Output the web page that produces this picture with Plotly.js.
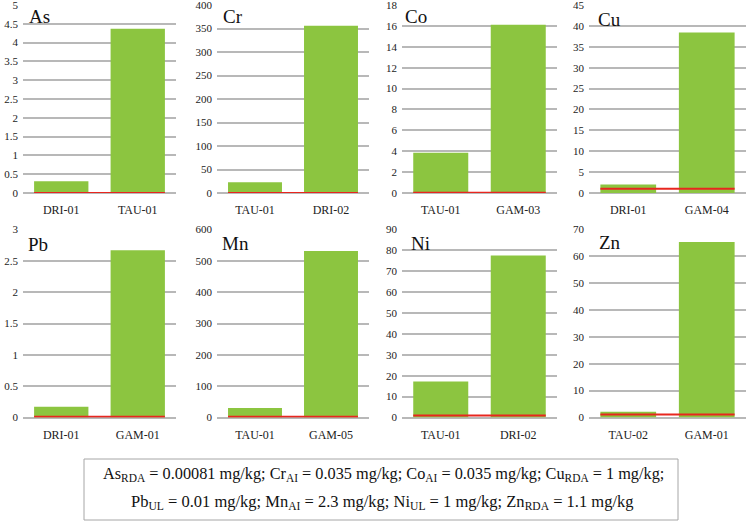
<!DOCTYPE html>
<html>
<head>
<meta charset="utf-8">
<script src="https://cdn.plot.ly/plotly-3.0.1.min.js"></script>
<style>html,body{margin:0;padding:0;background:#fff;}#chart{width:746px;height:522px;}</style>
</head>
<body>
<div id="chart"></div>
<script>
// ---- data ----
const elements = ['As', 'Cr', 'Co', 'Cu', 'Pb', 'Mn', 'Ni', 'Zn'];
const sampleA  = ['DRI-01', 'TAU-01', 'TAU-01', 'DRI-01', 'DRI-01', 'TAU-01', 'TAU-01', 'TAU-02'];
const sampleB  = ['TAU-01', 'DRI-02', 'GAM-03', 'GAM-04', 'GAM-01', 'GAM-05', 'DRI-02', 'GAM-01'];
const valueA   = [0.31, 23, 3.85, 2.05, 0.17, 30, 17.2, 2.1];
const valueB   = [4.37, 356, 16.1, 38.4, 2.67, 531, 77.6, 65.3];
const limits   = [0.00081, 0.035, 0.035, 1, 0.01, 2.3, 1, 1.1];
const yMax     = [5, 400, 18, 45, 3, 600, 90, 70];
const yStep    = [0.5, 50, 2, 5, 0.5, 100, 10, 10];
const noteLine1 = 'As<sub>RDA</sub> = 0.00081 mg/kg; Cr<sub>AI</sub> = 0.035 mg/kg; Co<sub>AI</sub> = 0.035 mg/kg; Cu<sub>RDA</sub> = 1 mg/kg;';
const noteLine2 = 'Pb<sub>UL</sub> = 0.01 mg/kg; Mn<sub>AI</sub> = 2.3 mg/kg; Ni<sub>UL</sub> = 1 mg/kg; Zn<sub>RDA</sub> = 1.1 mg/kg';

// ---- layout geometry (pixels) ----
const W = 746, H = 522;
const colPix = [[23, 176], [217, 369], [402, 557], [589, 746]];
const rowPix = [[5, 193], [229.5, 417.5]];
const titlePix = [[27, 16], [221, 16], [403, 16], [596, 20], [26, 245], [220, 244], [409, 244], [597, 243]];
const bargap = 0.29;
const serif = "'Liberation Serif', 'Times New Roman', Times, serif";

const px = x => x / W;
const py = y => 1 - y / H;

const data = [];
const layout = {
  width: W, height: H,
  margin: {l: 0, r: 0, t: 0, b: 0},
  paper_bgcolor: '#fff', plot_bgcolor: '#fff',
  showlegend: false,
  bargap: bargap,
  font: {family: serif, color: '#222', size: 11},
  shapes: [], annotations: []
};

elements.forEach((el, i) => {
  const n = i + 1;
  const sfx = n === 1 ? '' : String(n);
  const xa = 'x' + sfx, ya = 'y' + sfx;
  const r = Math.floor(i / 4);
  const col = colPix[i % 4], row = rowPix[r];
  data.push({
    type: 'bar', x: [sampleA[i], sampleB[i]], y: [valueA[i], valueB[i]],
    xaxis: xa, yaxis: ya, marker: {color: '#8cc540'}, hoverinfo: 'x+y'
  });
  layout['xaxis' + sfx] = {
    domain: [px(col[0]), px(col[1])], anchor: ya, type: 'category',
    range: [-0.5, 1.5], showgrid: false, showline: false, ticks: '',
    ticklabelstandoff: 8, ticklabeloverflow: 'allow',
    tickfont: {family: serif, size: 12, color: '#222'}, fixedrange: true
  };
  layout['yaxis' + sfx] = {
    domain: [py(row[1]), py(row[0])], anchor: xa,
    range: [0, yMax[i]], dtick: yStep[i], tick0: 0,
    showgrid: true, gridcolor: '#b8b8b8', gridwidth: 2,
    zeroline: true, zerolinecolor: '#b8b8b8', zerolinewidth: 2,
    showline: false, ticks: '', ticklabelstandoff: 4, ticklabeloverflow: 'allow',
    tickfont: {family: serif, size: 11, color: '#222'}, fixedrange: true
  };
  const half = (1 - bargap) / 2;
  layout.shapes.push({
    type: 'line', xref: xa, yref: ya, x0: -half, x1: 1 + half,
    y0: limits[i], y1: limits[i], line: {color: '#e8261f', width: 2}, layer: 'above'
  });
  layout.annotations.push({
    text: el, xref: 'paper', yref: 'paper',
    x: px(titlePix[i][0]), y: py(titlePix[i][1]), xanchor: 'left', yanchor: 'middle',
    showarrow: false, font: {family: serif, size: 19, color: '#111'}
  });
});

// note box
layout.shapes.push({
  type: 'rect', xref: 'paper', yref: 'paper',
  x0: px(84), x1: px(678), y0: py(520), y1: py(459),
  line: {color: '#a6a6a6', width: 1}, fillcolor: 'rgba(0,0,0,0)'
});
layout.annotations.push({
  text: noteLine1, xref: 'paper', yref: 'paper', x: px(383), y: py(474),
  xanchor: 'center', yanchor: 'middle', showarrow: false,
  font: {family: serif, size: 16.3, color: '#111'}
});
layout.annotations.push({
  text: noteLine2, xref: 'paper', yref: 'paper', x: px(382), y: py(502),
  xanchor: 'center', yanchor: 'middle', showarrow: false,
  font: {family: serif, size: 16.5, color: '#111'}
});

Plotly.newPlot('chart', data, layout, {staticPlot: true, displayModeBar: false});
</script>
</body>
</html>
